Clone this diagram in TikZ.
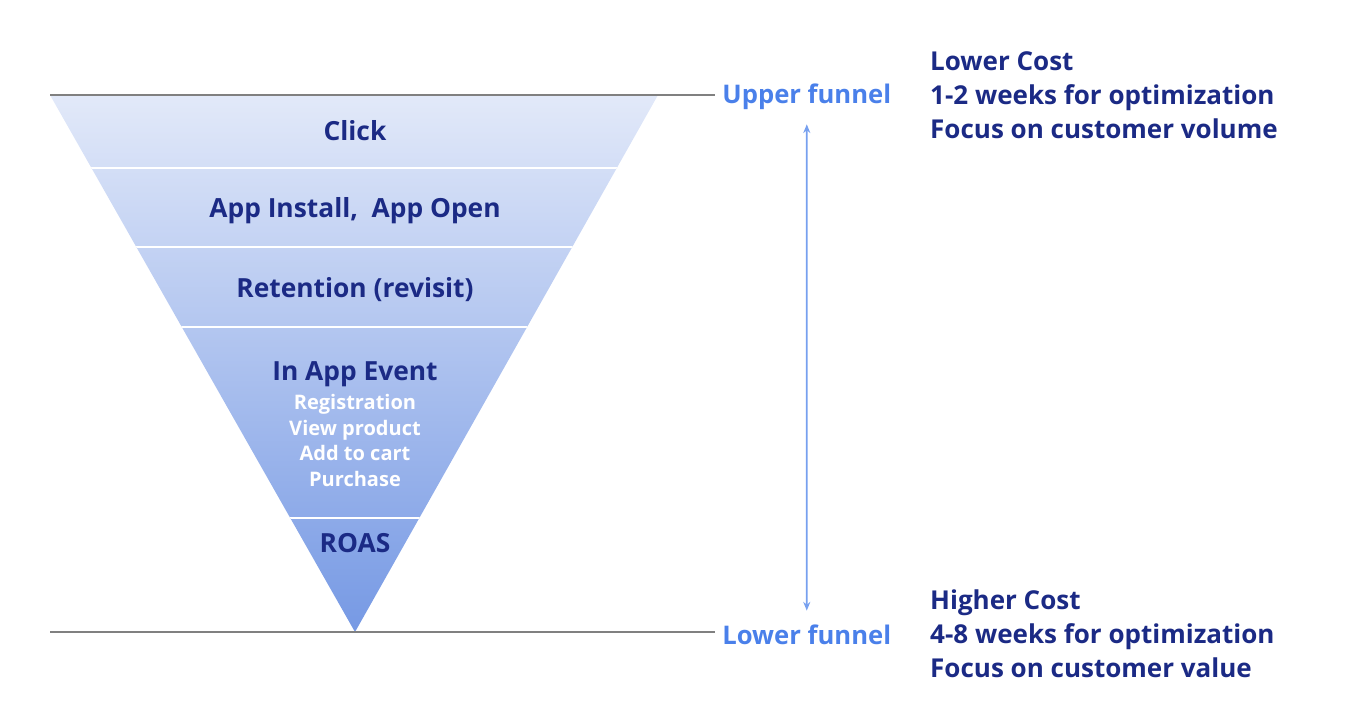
\documentclass[tikz,border=0pt]{standalone}
\usepackage{fontspec}
\setmainfont{Open Sans}
\usetikzlibrary{arrows.meta}
\definecolor{navy}{HTML}{1B2A85}
\definecolor{funblue}{HTML}{4A80EA}
\definecolor{toptint}{HTML}{E2E9F9}
\definecolor{bottint}{HTML}{7699E4}
\definecolor{rulegray}{HTML}{808080}
\begin{document}
\begin{tikzpicture}[x=0.02cm,y=-0.02cm,
	stage/.style={text=navy,font=\fontsize{15}{17}\selectfont\bfseries},
	substage/.style={text=white,font=\fontsize{11.4}{14.5}\selectfont\bfseries,align=center},
	level/.style={text=funblue,font=\fontsize{14.6}{16}\selectfont\bfseries,inner sep=4pt},
	note/.style={text=navy,font=\fontsize{14.8}{19.3}\selectfont\bfseries,align=left,anchor=west}]
	\useasboundingbox (0,0) rectangle (1348,716);

	% Funnel
	\coordinate (tl) at (50,95);
	\coordinate (tr) at (658,95);
	\coordinate (apex) at (355,632);
	\shade[top color=toptint, bottom color=bottint] (tl) -- (tr) -- (apex) -- cycle;
	\begin{scope}
		\clip (tl) -- (tr) -- (apex) -- cycle;
		\foreach \y in {168,247,327,518}
			\draw[white, line width=1.2pt] (0,\y) -- (700,\y);
	\end{scope}

	% Nodes
	\node[stage] (click) at (355,131) {Click};
	\node[stage] (install) at (355,211) {App Install,\ \ App Open};
	\node[stage] (retention) at (355,290) {Retention (revisit)};
	\node[stage] (event) at (355,374) {In App Event};
	\node[substage, below=-2.5pt] (items) at (event.south) {Registration\\View product\\Add to cart\\Purchase};
	\node[stage] (roas) at (355,543) {ROAS};

	\node[level, anchor=west] (upper) at (715,97) {Upper funnel};
	\node[level, anchor=west] (lower) at (715,635) {Lower funnel};
	\node[note] (cheap) at (924,95) {Lower Cost\\1-2 weeks for optimization\\Focus on customer volume};
	\node[note] (costly) at (924,634) {Higher Cost\\4-8 weeks for optimization\\Focus on customer value};

	% Lines
	\draw[rulegray, line width=1pt] (tl) -- (upper.west |- tl);
	\draw[rulegray, line width=1pt] (50,632) -- (lower.west |- apex);
	\draw[funblue!75, line width=1pt, {Stealth[length=5pt,width=4pt]}-{Stealth[length=5pt,width=4pt]}]
		([yshift=-4pt]upper.south) -- ([yshift=4pt]lower.north);
\end{tikzpicture}
\end{document}
